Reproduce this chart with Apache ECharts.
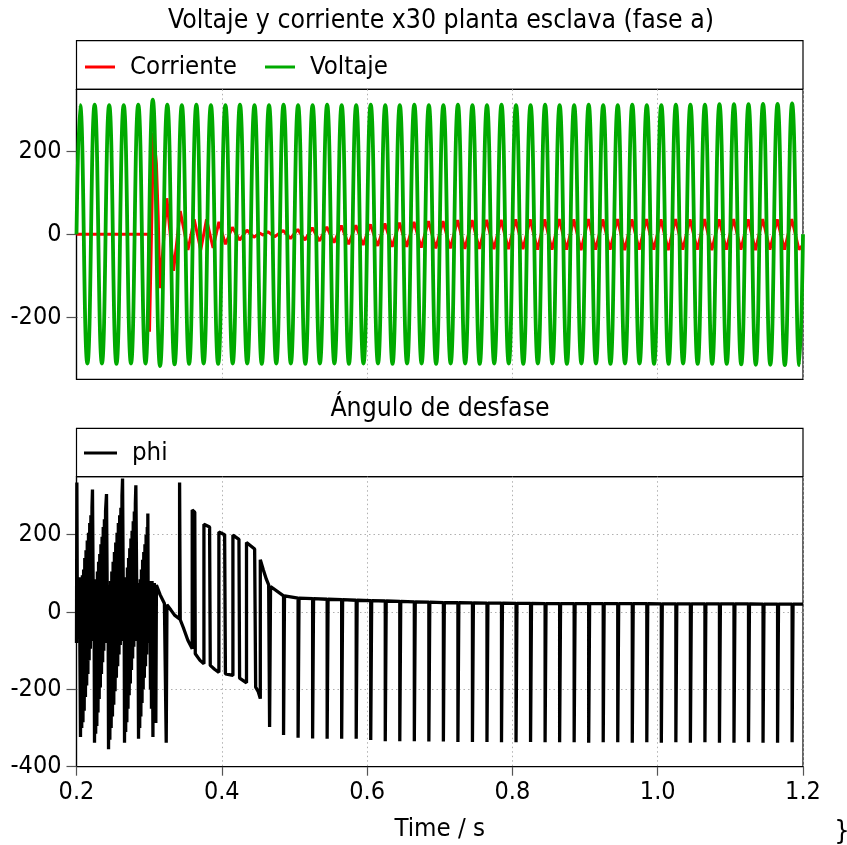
<!DOCTYPE html>
<html><head><meta charset="utf-8">
<script src="https://cdn.jsdelivr.net/npm/echarts@6/dist/echarts.min.js"></script>
<style>html,body{margin:0;padding:0;background:#fff}#c{width:847px;height:845px}</style>
</head><body><div id="c"></div>
<script>
const FONT = "'DejaVu Sans Condensed','DejaVu Sans',sans-serif";
const tituloSup = 'Voltaje y corriente x30 planta esclava (fase a)';
const tituloInf = 'Ángulo de desfase';
const nombresSup = ['Corriente', 'Voltaje'];
const nombresInf = ['phi'];
const yTicksSup = [-200, 0, 200];
const yTicksInf = [-400, -200, 0, 200];

// Voltaje: valores de pico de cada semiciclo (50 Hz)
const voltajeT0 = 0.205, voltajePaso = 0.01;
const voltajeExtremos = [[0.2, 0], [1.2, 0]];
const voltajePicos = [
  312,-312,313,-312,312,-313,312,-312,313,-312,
  325,-318,313,-314,312,-313,313,-312,312,-313,
  312,-312,313,-312,312,-313,312,-312,313,-312,
  312,-313,312,-312,313,-312,312,-313,312,-312,
  313,-312,312,-313,312,-312,313,-312,312,-313,
  312,-312,313,-312,312,-313,312,-312,313,-312,
  312,-313,312,-312,313,-312,312,-313,312,-312,
  313,-312,312,-313,312,-312,313,-312,312,-313,
  312,-313,313,-312,313,-313,313,-313,314,-313,
  314,-314,314,-315,315,-315,315,-316,316,-316
];

// Corriente x30: transitorio (tiempo, valor)
const corrienteTransitorio = [
  [0.2000,0],[0.2995,0],[0.3005,-235],[0.3060,245],[0.3100,170],[0.3125,40],[0.3148,-130],
  [0.3244,87],[0.3336,-88],[0.3428,56],[0.3534,-38],[0.3620,36],[0.3710,-38],[0.3790,36],
  [0.3880,-33],[0.3960,30],[0.4050,-24],[0.4145,17],[0.4245,-14],[0.4346,10],[0.4442,-7],
  [0.4520,3],[0.4570,-2],[0.4635,6],[0.4727,-6]
];
// Corriente: picos y valles en régimen
const corrienteEstT0 = 0.4845, corrienteEstPaso = 0.01;
const corrienteEst = [
  9,-10, 12,-14, 16,-16, 18,-20, 21,-24, 22,-26, 24,-28, 26,-30, 28,-30, 30,-32,
  32,-34, 32,-34, 34,-35, 34,-35, 35,-36, 35,-36, 36,-36, 36,-37, 36,-37, 37,-37,
  36,-38, 37,-37, 36,-37, 37,-38, 36,-37, 37,-37, 36,-38, 37,-37, 36,-37, 37,-38,
  36,-37, 37,-37, 36,-38, 37,-37, 36,-37, 37,-37
];
const corrienteFin = [1.2, -25];

// phi: muestras (tiempo, grados)
const phiMuestras = [
  [0.2000,-80],[0.2005,335],[0.2013,-70],[0.2022,80],[0.2031,-60],[0.2040,90],[0.2055,-323],
  [0.2064,60],[0.2072,-300],[0.2081,95],[0.2089,-285],[0.2098,110],[0.2106,-255],[0.2114,140],[0.2123,-220],
  [0.2131,160],[0.2140,-190],[0.2148,185],[0.2157,-160],[0.2165,205],[0.2174,-125],[0.2182,230],
  [0.2191,-95],[0.2198,250],[0.2206,-75],[0.2213,270],[0.2220,317],[0.2234,-70],[0.2241,60],
  [0.2248,-338],[0.2256,70],[0.2264,-315],[0.2272,85],[0.2280,-295],[0.2288,105],[0.2296,-260],[0.2304,130],
  [0.2312,-225],[0.2320,150],[0.2328,-195],[0.2336,175],[0.2344,-160],[0.2352,195],[0.2360,-130],[0.2368,220],
  [0.2376,-100],[0.2384,240],[0.2392,-80],[0.2400,262],[0.2413,305],[0.2427,-70],[0.2434,70],
  [0.2441,-355],[0.2450,65],[0.2459,-330],[0.2468,80],[0.2477,-300],[0.2486,105],[0.2495,-270],[0.2504,130],
  [0.2513,-240],[0.2522,155],[0.2531,-205],[0.2540,180],[0.2549,-170],[0.2558,205],[0.2567,-140],[0.2576,230],
  [0.2585,-110],[0.2594,250],[0.2603,-85],[0.2611,270],[0.2618,-60],[0.2626,300],[0.2634,345],[0.2648,-75],[0.2655,65],
  [0.2661,-338],[0.2669,75],[0.2677,-310],[0.2685,90],[0.2693,-285],[0.2701,115],[0.2709,-250],[0.2717,140],
  [0.2725,-215],[0.2733,165],[0.2741,-185],[0.2749,190],[0.2757,-150],[0.2765,210],[0.2773,-120],[0.2781,235],
  [0.2789,-90],[0.2796,260],[0.2803,-70],[0.2810,280],[0.2817,328],[0.2835,-75],[0.2845,70],
  [0.2854,-328],[0.2862,75],[0.2870,-300],[0.2878,85],[0.2886,-270],[0.2894,110],[0.2902,-235],[0.2910,135],
  [0.2918,-200],[0.2926,155],[0.2934,-170],[0.2942,175],[0.2950,-140],[0.2958,200],[0.2966,-110],[0.2974,220],
  [0.2978,-80],[0.2982,255],[0.2988,-70],
  [0.2995,75],[0.3003,-60],[0.3010,65],[0.3018,-200],[0.3025,80],[0.3032,-250],[0.3040,80],[0.3046,-70],
  [0.3052,-323],[0.3058,70],[0.3065,-60],[0.3072,75],[0.3080,-40],[0.3086,65],[0.3092,-287],[0.3100,70],
  [0.3150,45],[0.3210,22],[0.3235,20],[0.3235,-338],[0.3245,-338],[0.3245,19],[0.3300,5],[0.3350,-8],
  [0.3419,-18],[0.3419,335],[0.3428,335],[0.3428,-20],[0.3470,-40],[0.3533,-73],[0.3593,-95],
  [0.3593,264],[0.3628,258],[0.3635,-108],[0.3700,-125],[0.3754,-134],
  [0.3754,227],[0.3832,220],[0.3841,-138],[0.3900,-148],[0.3960,-156],
  [0.3960,207],[0.4039,200],[0.4050,-160],[0.4153,-164],
  [0.4153,199],[0.4236,188],[0.4245,-171],[0.4340,-183],
  [0.4340,180],[0.4452,163],[0.4466,-194],[0.4500,-205],[0.4530,-224],
  [0.4530,135],[0.4570,110],[0.4613,85],[0.4645,70]
];
// phi: saltos periódicos (tiempo, nivel base, fondo)
const phiSaltoT = [0.4658,0.485,0.505,0.525,0.545,0.565,0.585,0.605,0.625,0.645,0.665,0.685,
  0.705,0.725,0.745,0.765,0.785,0.805,0.825,0.845,0.865,0.885,0.905,0.925,0.945,0.965,0.985,
  1.005,1.025,1.045,1.065,1.085,1.105,1.125,1.145,1.165,1.185];
const phiSaltoBase = [66,42,36,34.5,33,32,30.5,29.5,28.5,27.5,26.5,25.5,24.5,24,23.5,23,23,22.5,22.5,
  22,22,22,22,21.5,21.5,21.5,21.5,21,21,21,21,21,21,21,20.5,20.5,20.5];
const phiSaltoFondo = [-297,-318,-325,-327,-328,-328,-328,-331,-334,-334,-334,-335,-335,-336,-336,-336,
  -337,-337,-336,-337,-337,-337,-338,-337,-337,-338,-337,-338,-337,-338,-337,-338,-338,-337,-338,-338,-337];
const phiSaltoAncho = 0.0013;
const phiFin = [1.2, 20.5];

// ---- build series data ----
const voltajeData = [voltajeExtremos[0]]
  .concat(voltajePicos.map((v, i) => [voltajeT0 + i * voltajePaso, v]))
  .concat([voltajeExtremos[1]]);
const corrienteData = corrienteTransitorio
  .concat(corrienteEst.map((v, i) => [corrienteEstT0 + i * corrienteEstPaso, v]))
  .concat([corrienteFin]);
const phiData = phiMuestras.slice();
phiSaltoT.forEach((t, i) => {
  phiData.push([t, phiSaltoBase[i]], [t, phiSaltoFondo[i]],
               [t + phiSaltoAncho, phiSaltoFondo[i]], [t + phiSaltoAncho, phiSaltoBase[i]]);
});
phiData.push(phiFin);

const chart = echarts.init(document.getElementById('c'), null, {renderer: 'canvas'});
const GL = 76.5, GW = 726.5, GH = 290;
const G1T = 89.3, G2T = 476.7, LB1 = 40.7, LB2 = 428.3;
const dotted = {show: true, lineStyle: {type: [1.5, 3], color: '#b0b0b0', width: 1}};
const txt = {fontFamily: FONT, fontSize: 25, color: '#000'};
const txtL = {fontFamily: FONT, fontSize: 25.6, color: '#000'};

function xAx(grid, showLabels) {
  return {
    gridIndex: grid, type: 'value', min: 0.2, max: 1.2, interval: 0.2,
    axisLine: {show: showLabels, onZero: false, lineStyle: {color: '#000', width: 1.2}},
    axisTick: {show: showLabels, length: 9, lineStyle: {color: '#555', width: 1.2}},
    axisLabel: {show: showLabels, ...txt, margin: 26, verticalAlign: 'middle',
      formatter: v => v.toFixed(1)},
    splitLine: dotted,
    name: showLabels ? 'Time / s' : '', nameLocation: 'middle', nameGap: 63,
    nameTextStyle: {...txtL, verticalAlign: 'middle'}
  };
}
function yAx(grid, min, max, ticks) {
  return {
    gridIndex: grid, type: 'value', min: min, max: max,
    axisLine: {show: true, onZero: false, lineStyle: {color: '#000', width: 1.2}},
    axisTick: {show: true, length: 10, customValues: ticks, lineStyle: {color: '#555', width: 1.2}},
    axisLabel: {...txt, margin: 15, customValues: ticks},
    splitLine: dotted
  };
}

chart.setOption({
  animation: false,
  backgroundColor: '#fff',
  grid: [
    {left: GL, top: G1T, width: GW, height: GH, show: true, borderColor: '#000', borderWidth: 1.2},
    {left: GL, top: G2T, width: GW, height: GH, show: true, borderColor: '#000', borderWidth: 1.2}
  ],
  xAxis: [xAx(0, false), xAx(1, true)],
  yAxis: [yAx(0, -350, 350, yTicksSup), yAx(1, -400, 350, yTicksInf)],
  legend: [
    {data: nombresSup, left: 85, top: 54, padding: 0, icon: 'rect', itemWidth: 30, itemHeight: 3,
     itemGap: 28, textStyle: {...txtL, padding: [0, 0, 0, 10]}, selectedMode: false},
    {data: nombresInf, left: 84, top: 440, padding: 0, icon: 'rect', itemWidth: 33, itemHeight: 3,
     textStyle: {...txtL, padding: [0, 0, 0, 10]}, selectedMode: false}
  ],
  graphic: [
    {type: 'rect', z: 0, shape: {x: GL, y: LB1, width: GW, height: G1T - LB1},
     style: {fill: 'none', stroke: '#000', lineWidth: 1.2}},
    {type: 'rect', z: 0, shape: {x: GL, y: LB2, width: GW, height: G2T - LB2},
     style: {fill: 'none', stroke: '#000', lineWidth: 1.2}},
    {type: 'text', x: 441, y: 21, style: {text: tituloSup, font: '26.4px ' + FONT, fill: '#000',
     textAlign: 'center', textVerticalAlign: 'middle', align: 'center', verticalAlign: 'middle'}},
    {type: 'text', x: 440, y: 409, style: {text: tituloInf, font: '26.4px ' + FONT, fill: '#000',
     textAlign: 'center', textVerticalAlign: 'middle', align: 'center', verticalAlign: 'middle'}},
    {type: 'text', x: 842, y: 832, style: {text: '}', font: '27px ' + FONT, fill: '#000',
     textAlign: 'center', textVerticalAlign: 'middle', align: 'center', verticalAlign: 'middle'}}
  ],
  series: [
    {name: 'Corriente', type: 'line', xAxisIndex: 0, yAxisIndex: 0, data: corrienteData,
     symbol: 'none', showSymbol: false, color: '#ff0000', lineStyle: {color: '#ff0000', width: 3}, z: 2},
    {name: 'Voltaje', type: 'line', xAxisIndex: 0, yAxisIndex: 0, data: voltajeData, smooth: 0.5,
     symbol: 'none', showSymbol: false, color: '#00aa00', lineStyle: {color: '#00aa00', width: 3.8}, z: 3},
    {name: 'phi', type: 'line', xAxisIndex: 1, yAxisIndex: 1, data: phiData,
     symbol: 'none', showSymbol: false, color: '#000', lineStyle: {color: '#000', width: 3.3}, z: 2}
  ]
});
</script></body></html>
